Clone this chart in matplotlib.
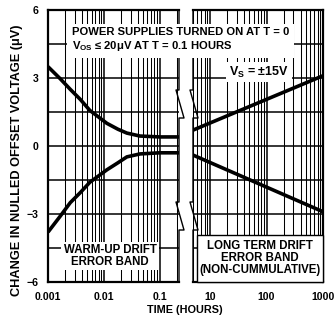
import matplotlib
matplotlib.use("Agg")
import matplotlib.pyplot as plt
from matplotlib.lines import Line2D
from matplotlib.patches import Rectangle
from matplotlib.ticker import LogLocator, FixedLocator, NullFormatter

plt.rcParams['font.family'] = ['Liberation Sans', 'DejaVu Sans']
plt.rcParams['font.weight'] = 'bold'
plt.rcParams['mathtext.fontset'] = 'custom'
plt.rcParams['mathtext.rm'] = 'Liberation Sans:bold'
plt.rcParams['mathtext.it'] = 'Liberation Sans:bold'
plt.rcParams['mathtext.bf'] = 'Liberation Sans:bold'

# warm-up drift band (hours, uV)
warm_t = [0.001, 0.00165, 0.0025, 0.0038, 0.0056, 0.0113, 0.0178, 0.0257, 0.044, 0.1, 0.22]
warm_upper = [3.5, 2.97, 2.5, 2.05, 1.57, 1.0, 0.74, 0.57, 0.44, 0.4, 0.4]
warm_lower = [-3.8, -3.1, -2.5, -2.05, -1.6, -1.05, -0.74, -0.48, -0.35, -0.3, -0.3]

# long term drift band
long_t = [5, 1000]
long_upper = [0.7, 3.1]
long_lower = [-0.4, -2.9]

y_ticks = [-6, -4.5, -3, -1.5, 0, 1.5, 3, 4.5, 6]
y_labels = ['\u22126', '', '\u22123', '', '0', '', '3', '', '6']
left_xticks = [0.001, 0.01, 0.1]
left_xlabels = ['0.001', '0.01', '0.1']
right_xticks = [10, 100, 1000]
right_xlabels = ['10', '100', '1000']

W, H = 335, 319
fig = plt.figure(figsize=(W / 100, H / 100), dpi=100)


def px(x, y):
    return x / W, 1 - y / H


top, bottom = 10, 282
ax1 = fig.add_axes([48 / W, 1 - bottom / H, (179 - 48) / W, (bottom - top) / H])
ax2 = fig.add_axes([193 / W, 1 - bottom / H, (323 - 193) / W, (bottom - top) / H])

for ax in (ax1, ax2):
    ax.set_xscale('log')
    ax.set_ylim(-6, 6)
    ax.yaxis.set_major_locator(FixedLocator(y_ticks))
    ax.xaxis.set_minor_locator(LogLocator(base=10, subs=range(2, 10)))
    ax.xaxis.set_minor_formatter(NullFormatter())
    ax.grid(True, which='major', color='black', lw=1.1)
    ax.grid(True, which='minor', axis='x', color='black', lw=0.75)
    ax.tick_params(which='both', length=0, labelsize=7.6, pad=7)
    for s in ax.spines.values():
        s.set_linewidth(1.6)

ax1.set_xlim(0.001, 0.22)
ax1.set_xticks(left_xticks)
ax1.set_xticklabels(left_xlabels)
ax1.set_yticklabels(y_labels)
ax1.spines['right'].set_visible(False)

ax2.set_xlim(5, 1000)
ax2.set_xticks(right_xticks)
ax2.set_xticklabels(right_xlabels)
ax2.tick_params(axis='y', labelleft=False)
ax2.spines['left'].set_visible(False)

ax1.plot(warm_t, warm_upper, color='black', lw=2.6, solid_capstyle='butt')
ax1.plot(warm_t, warm_lower, color='black', lw=2.6, solid_capstyle='butt')
ax2.plot(long_t, long_upper, color='black', lw=2.6, solid_capstyle='butt')
ax2.plot(long_t, long_lower, color='black', lw=2.6, solid_capstyle='butt')

# break edges with zigzag marks
for xe in (179, 193):
    pts = [(xe, top), (xe, 90), (xe - 3, 90), (xe + 5, 118), (xe, 118),
           (xe, 202), (xe - 3, 202), (xe + 5, 230), (xe, 230), (xe, bottom)]
    xs = [px(a, b)[0] for a, b in pts]
    ys = [px(a, b)[1] for a, b in pts]
    fig.add_artist(Line2D(xs, ys, transform=fig.transFigure, color='black', lw=1.0))

fs = 8.1
fig.text(*px(72, 40), 'POWER SUPPLIES TURNED ON AT T = 0\nV$_{\\mathrm{OS}}$ \u2264 20\u03bcV AT T = 0.1 HOURS',
         fontsize=fs, ha='left', va='center', linespacing=1.15,
         bbox=dict(facecolor='white', edgecolor='none', pad=3.5))
fig.text(*px(259, 72), 'V$_{\\mathrm{S}}$ = \u00b115V', fontsize=9,
         ha='center', va='center', bbox=dict(facecolor='white', edgecolor='none', pad=2))
fig.text(*px(110, 256), 'WARM-UP DRIFT\nERROR BAND', fontsize=8.3,
         ha='center', va='center', linespacing=1.05,
         bbox=dict(facecolor='white', edgecolor='none', pad=1.5))

# framed long-term label box
x0, y0 = px(197, 282)
x1, y1 = px(323, 235)
fig.add_artist(Rectangle((x0, y0), x1 - x0, y1 - y0, transform=fig.transFigure,
                         facecolor='white', edgecolor='black', lw=1.0, zorder=3))
fig.text(*px(260, 258), 'LONG TERM DRIFT\nERROR BAND\n(NON-CUMMULATIVE)', fontsize=8.3,
         ha='center', va='center', linespacing=1.05, zorder=4)

fig.text(*px(185, 310), 'TIME (HOURS)', fontsize=7.8, ha='center', va='center')
fig.text(*px(17, 160), 'CHANGE IN NULLED OFFSET VOLTAGE (\u03bcV)', fontsize=9.2,
         ha='center', va='center', rotation=90)

fig.savefig('out.png', dpi=100)
